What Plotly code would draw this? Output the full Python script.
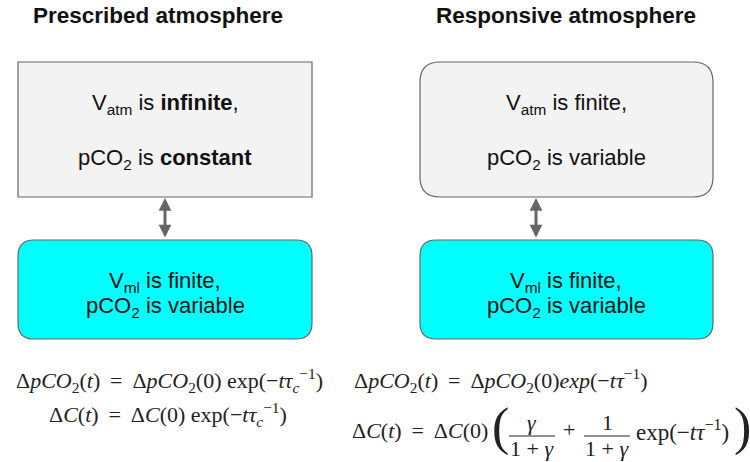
import plotly.graph_objects as go

W, H = 750, 462

# ---- content ----
titles = ["Prescribed atmosphere", "Responsive atmosphere"]
title_x = [158, 566]

top_line1 = ["V<sub>atm</sub> is <b>infinite</b>,", "V<sub>atm</sub> is finite,"]
top_line2 = ["pCO<sub>2</sub> is <b>constant</b>", "pCO<sub>2</sub> is variable"]
bot_line1 = ["V<sub>ml</sub> is finite,", "V<sub>ml</sub> is finite,"]
bot_line2 = ["pCO<sub>2</sub> is variable", "pCO<sub>2</sub> is variable"]

EQ = "\u2009=\u2009"
left_eqs = [
    f"Δ<i>pCO</i><sub>2</sub>(<i>t</i>) {EQ} Δ<i>pCO</i><sub>2</sub>(0) exp(−<i>tτ</i><sub><i>c</i></sub><sup>−1</sup>)",
    f"Δ<i>C</i>(<i>t</i>) {EQ} Δ<i>C</i>(0) exp(−<i>tτ</i><sub><i>c</i></sub><sup>−1</sup>)",
]
right_eq1 = f"Δ<i>pCO</i><sub>2</sub>(<i>t</i>) {EQ} Δ<i>pCO</i><sub>2</sub>(0)<i>exp</i>(−<i>tτ</i><sup>−1</sup>)"
right_eq2_lhs = f"Δ<i>C</i>(<i>t</i>) {EQ} Δ<i>C</i>(0)"
frac_num = ["<i>γ</i>", "1"]
frac_den = ["1 + <i>γ</i>", "1 + <i>γ</i>"]
right_eq2_tail = "exp(−<i>tτ</i><sup>−1</sup>)"

# ---- styling ----
SANS = "Liberation Sans, Arial, sans-serif"
SERIF = "Liberation Serif, Times New Roman, serif"
GREY_FILL = "#f3f3f3"
CYAN = "#00ffff"
EDGE = "#666666"
TXT = "#111111"
EQC = "#222222"

col_left = [18, 420]
col_right = [312, 713]
col_center = [165, 566]


def rrect(x0, y0, x1, y1, r):
    if r <= 0:
        return f"M {x0},{y0} L {x1},{y0} L {x1},{y1} L {x0},{y1} Z"
    return (f"M {x0+r},{y0} L {x1-r},{y0} Q {x1},{y0} {x1},{y0+r} "
            f"L {x1},{y1-r} Q {x1},{y1} {x1-r},{y1} L {x0+r},{y1} "
            f"Q {x0},{y1} {x0},{y1-r} L {x0},{y0+r} Q {x0},{y0} {x0+r},{y0} Z")


fig = go.Figure()
shapes = []
ann = []

BOXF = dict(family=SANS, size=22, color=TXT)
for i in range(2):
    x0, x1, cx = col_left[i], col_right[i], col_center[i]
    shapes.append(dict(type="path", xref="x", yref="y",
                       path=rrect(x0, 62, x1, 197, 0 if i == 0 else 20),
                       fillcolor=GREY_FILL, line=dict(color=EDGE, width=1.2)))
    shapes.append(dict(type="path", xref="x", yref="y",
                       path=rrect(x0, 240, x1, 339, 16),
                       fillcolor=CYAN, line=dict(color=EDGE, width=1.2)))
    ann.append(dict(x=title_x[i], y=15, text=f"<b>{titles[i]}</b>", showarrow=False,
                    font=dict(family=SANS, size=22.5, color=TXT), xanchor="center", yanchor="middle"))
    ann.append(dict(x=cx, y=104, text=top_line1[i], showarrow=False, font=BOXF,
                    xanchor="center", yanchor="middle"))
    ann.append(dict(x=cx, y=159, text=top_line2[i], showarrow=False, font=BOXF,
                    xanchor="center", yanchor="middle"))
    ann.append(dict(x=cx, y=282, text=bot_line1[i], showarrow=False, font=BOXF,
                    xanchor="center", yanchor="middle"))
    ann.append(dict(x=cx, y=307, text=bot_line2[i], showarrow=False, font=BOXF,
                    xanchor="center", yanchor="middle"))

for ax_x in [165, 536]:
    ann.append(dict(x=ax_x, y=198, ax=ax_x, ay=239, xref="x", yref="y", axref="x", ayref="y",
                    text="", showarrow=True, arrowhead=2, arrowside="end+start",
                    arrowwidth=3, arrowsize=0.85, arrowcolor=EDGE, standoff=0, startstandoff=0))

EQF = dict(family=SERIF, size=22, color=EQC)
ann.append(dict(x=169, y=380, text=left_eqs[0], showarrow=False, font=EQF,
                xanchor="center", yanchor="middle"))
ann.append(dict(x=168, y=414, text=left_eqs[1], showarrow=False, font=EQF,
                xanchor="center", yanchor="middle"))
ann.append(dict(x=352, y=380, text=right_eq1, showarrow=False, font=EQF,
                xanchor="left", yanchor="middle"))
ann.append(dict(x=350, y=430, text=right_eq2_lhs, showarrow=False, font=EQF,
                xanchor="left", yanchor="middle"))
ann.append(dict(x=500, y=427, text="(", showarrow=False,
                font=dict(family=SERIF, size=52, color=EQC), xanchor="center", yanchor="middle"))
ann.append(dict(x=742, y=427, text=")", showarrow=False,
                font=dict(family=SERIF, size=52, color=EQC), xanchor="center", yanchor="middle"))
frac_cx = [532, 607]
frac_w = [46, 46]
for k in range(2):
    ann.append(dict(x=frac_cx[k], y=422, text=frac_num[k], showarrow=False, font=EQF,
                    xanchor="center", yanchor="middle"))
    ann.append(dict(x=frac_cx[k], y=448, text=frac_den[k], showarrow=False, font=EQF,
                    xanchor="center", yanchor="middle"))
    shapes.append(dict(type="line", xref="x", yref="y",
                       x0=frac_cx[k] - frac_w[k] / 2, x1=frac_cx[k] + frac_w[k] / 2,
                       y0=436, y1=436, line=dict(color=EQC, width=1)))
ann.append(dict(x=569, y=429, text="+", showarrow=False, font=EQF,
                xanchor="center", yanchor="middle"))
ann.append(dict(x=634, y=430, text=right_eq2_tail, showarrow=False,
                font=dict(family=SERIF, size=23, color=EQC), xanchor="left", yanchor="middle"))

fig.update_layout(
    width=W, height=H,
    margin=dict(l=0, r=0, t=0, b=0),
    paper_bgcolor="white", plot_bgcolor="white",
    xaxis=dict(range=[0, W], visible=False, fixedrange=True),
    yaxis=dict(range=[H, 0], visible=False, fixedrange=True),
    shapes=shapes, annotations=ann, showlegend=False,
)

fig.write_html("out.html", config={"displayModeBar": False},
               post_script="document.body.style.margin='0px';")
